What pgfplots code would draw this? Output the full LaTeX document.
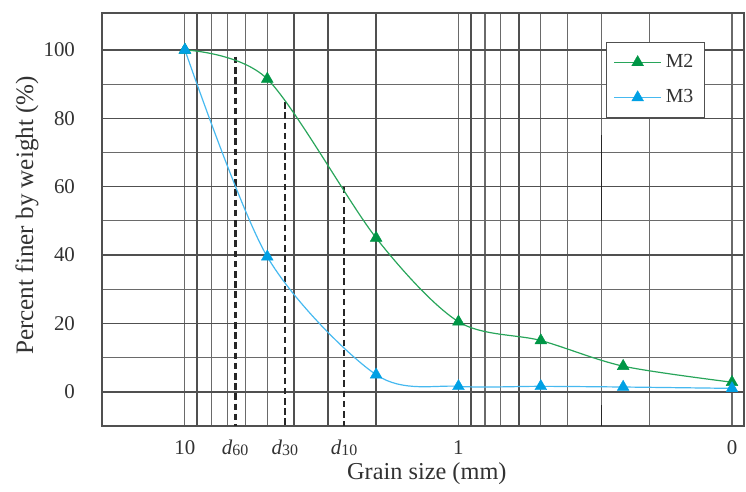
\documentclass[border=0pt]{standalone}
\usepackage{pgfplots}
\pgfplotsset{compat=1.18}
\usepackage{fontspec}
\setmainfont{Liberation Serif}
\definecolor{mgreen}{RGB}{0,150,70}
\definecolor{lgreen}{RGB}{40,165,90}
\definecolor{mblue}{RGB}{0,160,228}
\definecolor{lblue}{RGB}{70,185,240}
\definecolor{gridc}{RGB}{80,80,80}
\definecolor{txt}{RGB}{50,50,50}
\begin{document}
\begin{tikzpicture}
\begin{axis}[
  scale only axis, width=321bp, height=206.5bp,
  xmode=log, x dir=reverse, xmin=0.0904, xmax=20.1,
  ymin=-10, ymax=110.8,
  axis line style={gridc, line width=0.8bp},
  tick style={draw=none},
  major tick length=0pt, minor tick length=0pt,
  xtick={10,6.55,4.31,2.62,1,0.1},
  xticklabels={10, \textit{d}\raisebox{-0.15ex}{\fontsize{8}{8}\selectfont 60}, \textit{d}\raisebox{-0.15ex}{\fontsize{8}{8}\selectfont 30}, \textit{d}\raisebox{-0.15ex}{\fontsize{8}{8}\selectfont 10}, 1, 0},
  minor xtick={0.1,0.2,0.3,0.4,0.5,0.6,0.7,0.8,0.9,1,2,3,4,5,6,7,8,9,10},
  xminorgrids=true, xmajorgrids=false,
  extra x ticks={9,4,3,2,0.9,0.6},
  extra x tick labels={},
  extra x tick style={grid=major, major grid style={gridc, line width=0.95bp}},
  ytick={0,20,40,60,80,100},
  minor ytick={10,30,50,70,90},
  ymajorgrids=true, yminorgrids=true,
  major grid style={gridc, line width=0.75bp},
  minor grid style={gridc!85, line width=0.55bp},
  /pgf/number format/assume math mode=true,
  ticklabel style={font=\fontsize{10.5}{12}\selectfont, text=txt},
  xticklabel style={anchor=center, yshift=-11bp},
  yticklabel style={anchor=east, xshift=-10bp},
  xlabel={Grain size (mm)},
  ylabel={Percent finer by weight (\%)},
  xlabel style={at={(axis description cs:0.506,-0.116)}, anchor=center, font=\fontsize{12.2}{14}\selectfont, text=txt},
  ylabel style={at={(axis description cs:-0.1168,0.51)}, anchor=center, font=\fontsize{12.6}{14}\selectfont, text=txt},
  legend style={at={(axis description cs:0.785,0.9305)}, anchor=north west,
    draw=gridc, line width=0.6bp, fill=white,
    inner xsep=3.5bp, inner ysep=4bp, row sep=5.5bp,
    font=\fontsize{10}{11}\selectfont, text=txt,
    /tikz/every even column/.append style={column sep=6bp}},
  legend image code/.code={\draw[mark repeat=2,mark phase=2] plot coordinates {(0bp,0bp) (11.75bp,0bp) (23.5bp,0bp)};},
]
\addplot[black!85, line width=0.7bp, forget plot] coordinates {(0.3,75) (0.3,50)};
\addplot[black!85, line width=0.7bp, forget plot] coordinates {(0.3,-4) (0.3,-10)};
\addplot[black!85, line width=1.3bp, dash pattern=on 3.3bp off 1.8bp, forget plot] coordinates {(6.55,98) (6.55,-10)};
\addplot[black!85, line width=1.3bp, dash pattern=on 3.3bp off 1.8bp, forget plot] coordinates {(4.31,84.7) (4.31,-10)};
\addplot[black!85, line width=1.3bp, dash pattern=on 3.3bp off 1.8bp, forget plot] coordinates {(2.62,60) (2.62,-10)};
\addplot[lgreen, line width=0.6bp, smooth, mark=triangle*, mark size=3.4bp, mark options={mgreen, fill=mgreen, line width=0.2bp}] coordinates {
(10,100) (5,91.5) (2,45) (1,20.5) (0.5,15) (0.25,7.5) (0.1,2.8)};
\addlegendentry{M2}
\addplot[lblue, line width=0.6bp, smooth, mark=triangle*, mark size=3.4bp, mark options={mblue, fill=mblue, line width=0.2bp}] coordinates {
(10,100) (5,39.5) (2,5) (1,1.6) (0.5,1.6) (0.25,1.4) (0.1,1.0)};
\addlegendentry{M3}
\end{axis}
\path ([shift={(-51bp,-31.5bp)}]current axis.south west) rectangle ([shift={(1bp,6.5bp)}]current axis.north east);
\end{tikzpicture}
\end{document}
